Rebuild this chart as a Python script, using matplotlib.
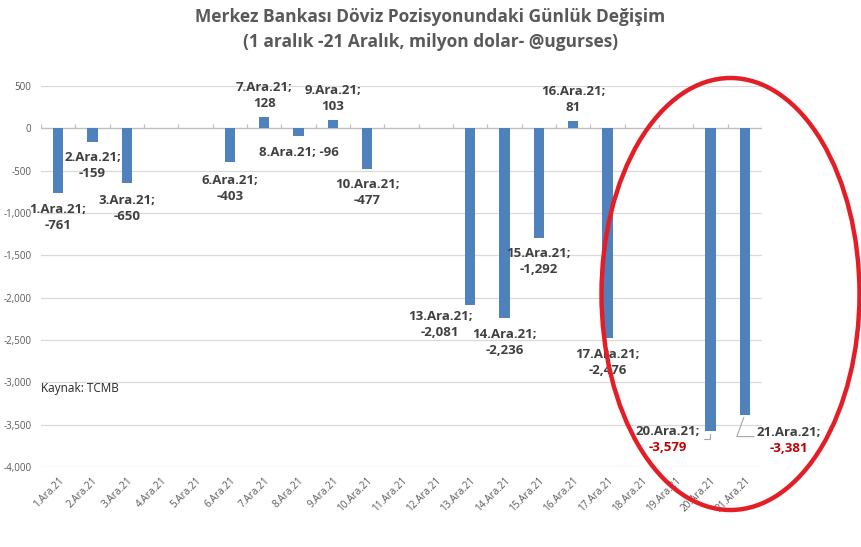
import numpy as np
import matplotlib.pyplot as plt
from matplotlib.patches import Ellipse

plt.rcParams['font.family'] = ['Open Sans', 'DejaVu Sans']

# data (million USD), empty days have no bar
days = [f"{d}.Ara.21" for d in range(1, 22)]
values = [-761, -159, -650, None, None, -403, 128, -96, 103, -477, None, None,
          -2081, -2236, -1292, 81, -2476, None, None, -3579, -3381]
yticks = [500, 0, -500, -1000, -1500, -2000, -2500, -3000, -3500, -4000]

# label offsets in pixels from the bar end (dx, dy)
offsets = {1: (0, -25), 2: (0, -24), 3: (0, -25), 6: (0, -26), 7: (0, 22), 8: (0, -16),
           9: (0, 21), 10: (0, -24), 13: (-30, -20), 14: (0, -25), 15: (0, -24),
           16: (0, 22), 17: (0, -25), 20: (-43, -8), 21: (44, -26)}
red_days = [20, 21]

vals = np.array([np.nan if v is None else v for v in values], dtype=float)
x = np.arange(len(days))

fig = plt.figure(figsize=(8.61, 5.47), dpi=100)
ax = fig.add_axes([41 / 861, 1 - 467 / 547, 721 / 861, 381 / 547])

ax.bar(x, vals, width=0.31, color='#4F81BD', zorder=3)
ax.set_xlim(-0.5, len(days) - 0.5)
ax.set_ylim(-4000, 500)

ax.set_yticks(yticks)
ax.set_yticklabels([f"{t:,}" for t in yticks], fontsize=7, color='#595959')
ax.yaxis.grid(True, color='#D9D9D9', lw=0.9, zorder=0)
for s in ax.spines.values():
    s.set_visible(False)
ax.tick_params(axis='y', length=0, pad=7)

ax.set_xticks(x)
ax.set_xticklabels(days, rotation=45, ha='right', rotation_mode='anchor',
                   fontsize=7.2, color='#595959')
ax.tick_params(axis='x', length=0, pad=6)

# category axis at zero with boundary ticks
ax.axhline(0, color='#BFBFBF', lw=0.9, zorder=2)
ax.vlines(np.arange(-0.5, len(days)), 0, 50, color='#BFBFBF', lw=0.9, zorder=2)

# data labels
for i, v in enumerate(vals):
    d = i + 1
    if np.isnan(v):
        continue
    dx, dy = offsets[d]
    val_txt = f"{v:,.0f}"
    if d == 8:
        ax.annotate(f"{days[i]}; {val_txt}", (i, v), xytext=(dx, dy), textcoords='offset pixels',
                    ha='center', va='center', fontsize=9.5, fontweight='bold', color='#404040')
        continue
    vc = '#C00000' if d in red_days else '#404040'
    ax.annotate(f"{days[i]};", (i, v), xytext=(dx, dy + 8), textcoords='offset pixels',
                ha='center', va='center', fontsize=9.5, fontweight='bold', color='#404040')
    ax.annotate(val_txt, (i, v), xytext=(dx, dy - 8), textcoords='offset pixels',
                ha='center', va='center', fontsize=9.5, fontweight='bold', color=vc)

# leader lines for the last two labels
i20, i21 = 19, 20
ax.annotate('', (i20, vals[i20]), xytext=(-9, -8), textcoords='offset pixels',
            arrowprops=dict(arrowstyle='-', color='#A6A6A6', lw=0.8,
                            connectionstyle='angle,angleA=0,angleB=90,rad=0'))
ax.annotate('', (i21, vals[i21]), xytext=(12, -22), textcoords='offset pixels',
            arrowprops=dict(arrowstyle='-', color='#A6A6A6', lw=0.8,
                            connectionstyle='angle,angleA=0,angleB=70,rad=0'))

ax.text(0.0, 0.205, "Kaynak: TCMB", transform=ax.transAxes, fontsize=8.5,
        color='#262626', va='center')

fig.text(0.5, 1 - 17 / 547, "Merkez Bankası Döviz Pozisyonundaki Günlük Değişim",
         ha='center', va='center', fontsize=12.5, fontweight='bold', color='#595959')
fig.text(0.5, 1 - 42 / 547, "(1 aralık -21 Aralık, milyon dolar- @ugurses)",
         ha='center', va='center', fontsize=12.5, fontweight='bold', color='#595959')

# red circle highlighting the last days
W, H = 861, 547
ell = Ellipse((730.5 / W, 1 - 294 / H), 258 / W, 432 / H, transform=fig.transFigure,
              fill=False, edgecolor='#E41E26', lw=3.2, clip_on=False, zorder=10)
fig.add_artist(ell)

fig.savefig('out.png', dpi=100)
